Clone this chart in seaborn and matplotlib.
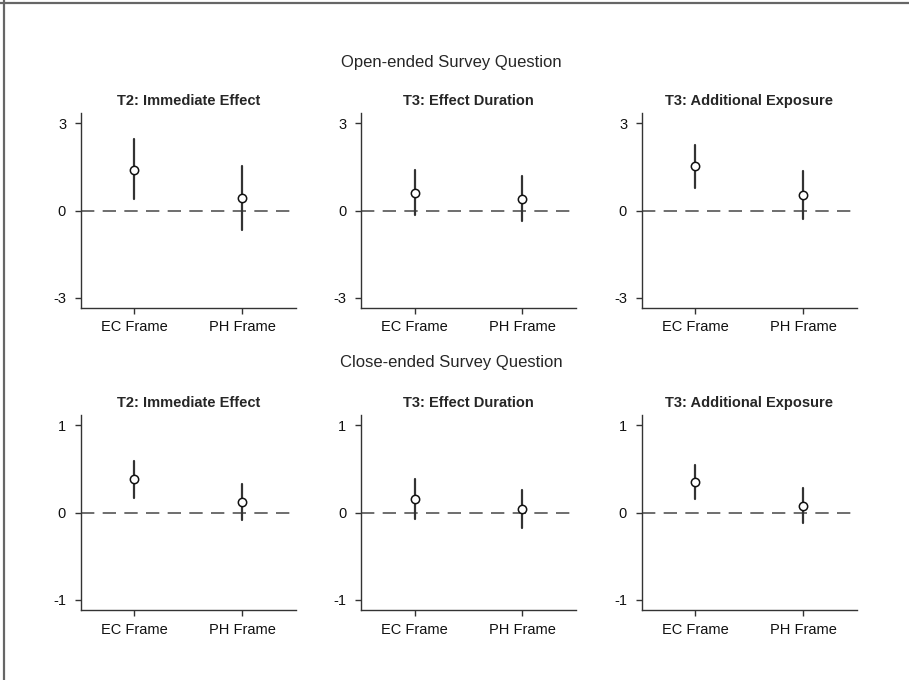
import numpy as np
import pandas as pd
import matplotlib
matplotlib.use("Agg")
import matplotlib.pyplot as plt
import seaborn as sns

# data
frames = ["EC Frame", "PH Frame"]
panel_titles = ["T2: Immediate Effect", "T3: Effect Duration", "T3: Additional Exposure"]
row_titles = ["Open-ended Survey Question", "Close-ended Survey Question"]

# open-ended: estimate, lower, upper per frame
open_est = [[1.41, 0.42], [0.61, 0.41], [1.53, 0.53]]
open_lo = [[0.38, -0.66], [-0.17, -0.37], [0.78, -0.29]]
open_hi = [[2.45, 1.53], [1.38, 1.18], [2.25, 1.36]]

# close-ended
close_est = [[0.38, 0.12], [0.15, 0.04], [0.35, 0.08]]
close_lo = [[0.17, -0.09], [-0.07, -0.18], [0.15, -0.12]]
close_hi = [[0.59, 0.33], [0.38, 0.26], [0.54, 0.28]]

row_ticks = [[-3, 0, 3], [-1, 0, 1]]
row_lims = [(-3.36, 3.36), (-1.12, 1.12)]

sns.set_theme(style="ticks")
plt.rcParams["font.family"] = ["Liberation Sans", "DejaVu Sans"]
plt.rcParams["axes.unicode_minus"] = False

fig = plt.figure(figsize=(9.09, 6.8), dpi=100)
W, H = 909, 680

lefts = [80.7, 361, 641.7]
tops = [113, 415]
aw, ah = 215, 195

rows = [(open_est, open_lo, open_hi), (close_est, close_lo, close_hi)]

for r, (est, lo, hi) in enumerate(rows):
    for c in range(3):
        ax = fig.add_axes([lefts[c] / W, 1 - (tops[r] + ah) / H, aw / W, ah / H])
        # long form: lo, est, hi per frame -> median = est, 100% interval = lo..hi
        df = pd.DataFrame({
            "frame": np.repeat(frames, 3),
            "value": [v for i in range(2) for v in (lo[c][i], est[c][i], hi[c][i])],
        })
        ax.axhline(0, color="#555555", lw=1.2, dashes=(8, 5), zorder=0)
        sns.pointplot(data=df, x="frame", y="value", order=frames,
                      estimator=np.median, errorbar=("pi", 100),
                      linestyle="none", color="#222222",
                      marker="o", markersize=6, markerfacecolor="white",
                      markeredgecolor="#111111", markeredgewidth=1.1,
                      err_kws={"linewidth": 1.6, "color": "#333333", "zorder": 2},
                      ax=ax)
        for ln in ax.lines:
            if ln.get_marker() == "o":
                ln.set_zorder(3)
        ax.set_xlim(-0.5, 1.5)
        ax.set_ylim(*row_lims[r])
        ax.set_yticks(row_ticks[r])
        ax.set_xlabel("")
        ax.set_ylabel("")
        ax.set_title(panel_titles[c], fontsize=10.5, fontweight="bold", pad=5.5)
        sns.despine(ax=ax)
        for s in ["left", "bottom"]:
            ax.spines[s].set_color("#333333")
            ax.spines[s].set_linewidth(1.0)
        ax.tick_params(axis="both", labelsize=10.5, length=4, width=1.0,
                       color="#333333", labelcolor="#111111")
        ax.tick_params(axis="x", pad=5)
        ax.tick_params(axis="y", pad=6.5)

fig.text(451 / W, 1 - 62 / H, row_titles[0], ha="center", va="center", fontsize=12)
fig.text(451 / W, 1 - 362 / H, row_titles[1], ha="center", va="center", fontsize=12)

# top and left frame of the screenshot
fig.add_artist(plt.Line2D([0, 1], [1 - 3 / H, 1 - 3 / H], color="#666666", lw=1.6,
                          transform=fig.transFigure))
fig.add_artist(plt.Line2D([3.5 / W, 3.5 / W], [0, 1], color="#666666", lw=1.6,
                          transform=fig.transFigure))

fig.savefig("out.png", dpi=100)
